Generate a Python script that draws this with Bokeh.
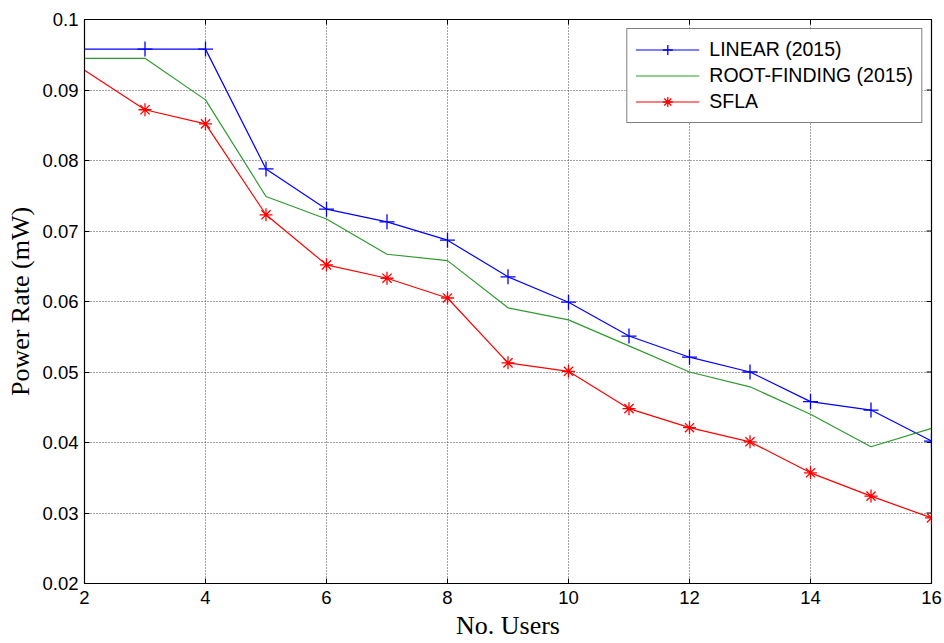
import math
from bokeh.plotting import figure
from bokeh.models import FixedTicker, Legend, LegendItem
from bokeh.embed import file_html
from bokeh.resources import INLINE

users = [2, 3, 4, 5, 6, 7, 8, 9, 10, 11, 12, 13, 14, 15, 16]
linear = [0.0958, 0.0958, 0.0958, 0.0788, 0.0731, 0.0713, 0.0687, 0.0635, 0.0599,
          0.0551, 0.0521, 0.0500, 0.0458, 0.0446, 0.0402]
root_finding = [0.0945, 0.0945, 0.0886, 0.0749, 0.0717, 0.0667, 0.0658, 0.0591, 0.0574,
                0.0537, 0.0500, 0.0479, 0.0440, 0.0394, 0.0420]
sfla = [0.0928, 0.0872, 0.0852, 0.0723, 0.0652, 0.0633, 0.0605, 0.0513, 0.0501,
        0.0448, 0.0421, 0.0401, 0.0357, 0.0324, 0.0293]
x_ticks = [2, 4, 6, 8, 10, 12, 14, 16]
y_ticks = [0.02, 0.03, 0.04, 0.05, 0.06, 0.07, 0.08, 0.09, 0.1]
y_tick_labels = ["0.02", "0.03", "0.04", "0.05", "0.06", "0.07", "0.08", "0.09", "0.1"]
x_min, x_max = 2, 16
y_min, y_max = 0.02, 0.1

p = figure(width=944, height=643, output_backend="svg", toolbar_location=None,
           x_range=(x_min, x_max), y_range=(y_min, y_max),
           min_border_left=84, min_border_right=13, min_border_top=19, min_border_bottom=60)

p.outline_line_color = "black"
p.outline_line_width = 1.2
p.background_fill_color = "white"
p.border_fill_color = "white"

for ax in (p.xaxis[0], p.yaxis[0]):
    ax.axis_line_color = "black"
    ax.major_tick_in = 5
    ax.major_tick_out = 0
    ax.minor_tick_line_color = None
    ax.major_label_text_font = "Liberation Sans"
    ax.major_label_text_font_size = "18.5px"
    ax.major_label_text_color = "black"
    ax.axis_label_text_font = "Liberation Serif"
    ax.axis_label_text_font_size = "26px"
    ax.axis_label_text_font_style = "normal"
    ax.axis_label_text_color = "black"

p.xaxis.ticker = FixedTicker(ticks=x_ticks)
p.yaxis.ticker = FixedTicker(ticks=y_ticks)
p.yaxis.major_label_overrides = {t: l for t, l in zip(y_ticks, y_tick_labels)}
p.xaxis.axis_label = "No. Users"
p.yaxis.axis_label = "Power Rate (mW)"
p.xaxis.major_label_standoff = 7
p.yaxis.major_label_standoff = 6
p.xaxis.axis_label_standoff = 4
p.yaxis.axis_label_standoff = 4

p.grid.grid_line_color = "#444444"
p.grid.grid_line_dash = "1 2"
p.grid.grid_line_width = 1

# box ticks on top and right edges (MATLAB style); half of each dash is clipped by the frame
p.scatter([x_max] * len(y_ticks), y_ticks, marker="dash", size=10, line_color="black", line_width=1)
p.scatter(x_ticks, [y_max] * len(x_ticks), marker="dash", angle=math.pi / 2, size=10,
          line_color="black", line_width=1)

blue = "#0000FF"
green = "#2E9A2E"
red = "#FF0000"

l1 = p.line(users, linear, line_color=blue, line_width=1.2)
s1 = p.scatter(users[1:], linear[1:], marker="cross", size=15, line_color=blue, line_width=1.3)
l2 = p.line(users, root_finding, line_color=green, line_width=1.2)
l3 = p.line(users, sfla, line_color=red, line_width=1.2)
s3 = p.scatter(users[1:], sfla[1:], marker="asterisk", size=13, line_color=red, line_width=1.3)

legend = Legend(items=[
    LegendItem(label="LINEAR (2015)", renderers=[l1, s1]),
    LegendItem(label="ROOT-FINDING (2015)", renderers=[l2]),
    LegendItem(label="SFLA", renderers=[l3, s3]),
], location="top_right")
legend.label_text_font = "Liberation Sans"
legend.label_text_font_size = "19.5px"
legend.label_text_color = "black"
legend.glyph_width = 64
legend.glyph_height = 25
legend.label_height = 25
legend.spacing = 1
legend.padding = 8
legend.margin = 9
legend.border_line_color = "black"
legend.border_line_width = 1.2
legend.background_fill_alpha = 1
legend.label_standoff = 10
p.add_layout(legend)

open("out.html", "w").write(file_html(p, INLINE))
